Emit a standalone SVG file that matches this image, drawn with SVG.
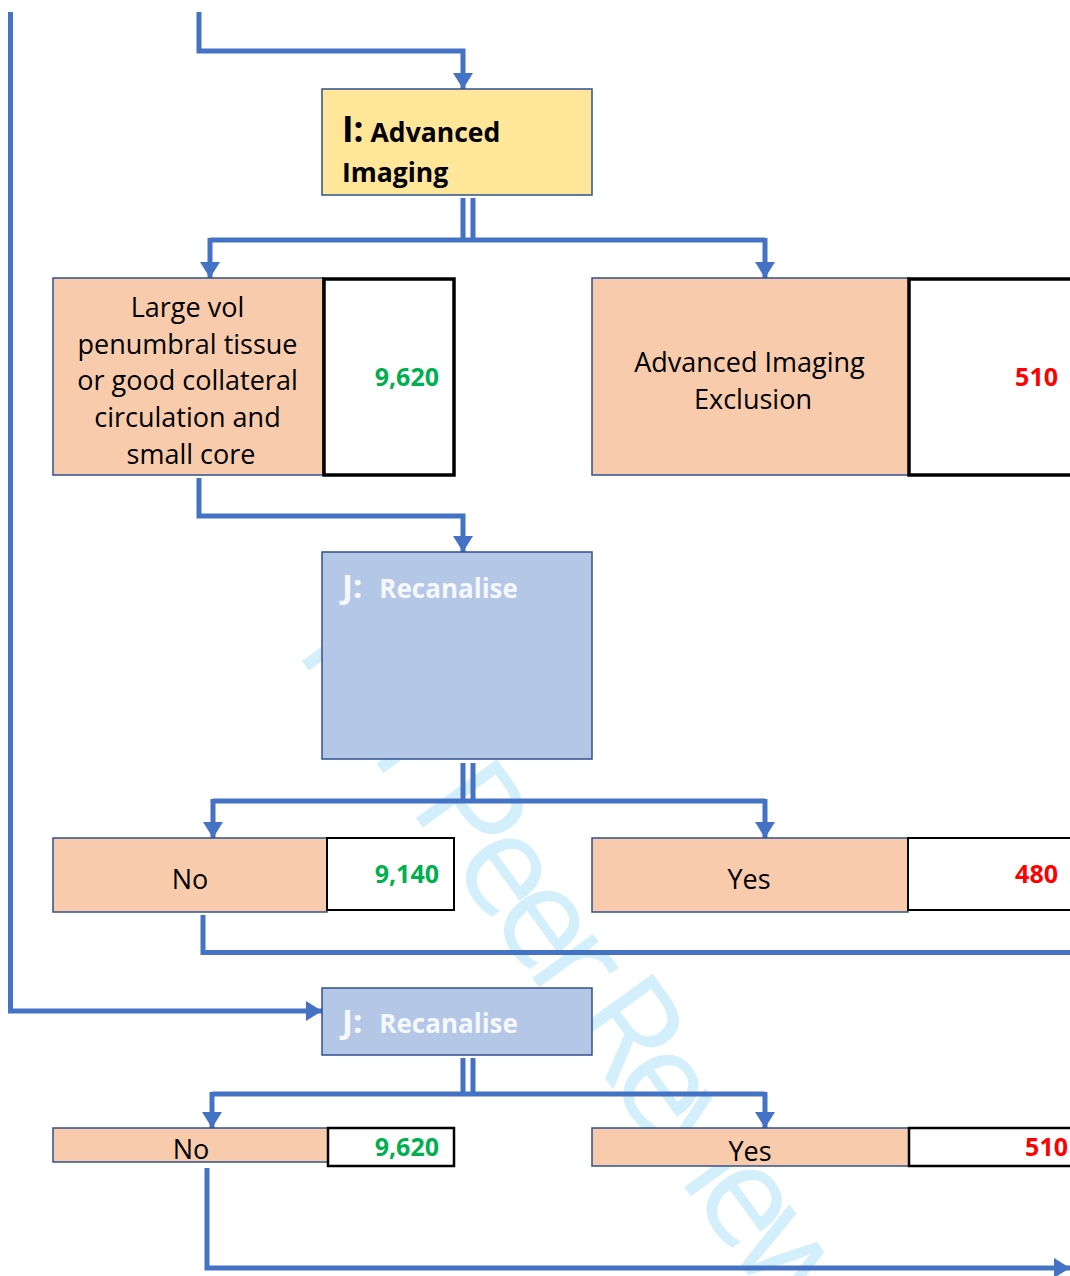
<svg xmlns="http://www.w3.org/2000/svg" width="1070" height="1276" viewBox="0 0 1070 1276">
  <defs>
    <marker id="arrow" markerUnits="userSpaceOnUse" markerWidth="16" markerHeight="20" refX="16" refY="10" orient="auto">
      <path d="M0,0 L16,10 L0,20 z" fill="#4472C4"/>
    </marker>
    <style>
      .step { fill: #FFE699; stroke: #2F528F; stroke-width: 1.5; }
      .outcome { fill: #F8CBAD; stroke: #2F528F; stroke-width: 1.5; }
      .action { fill: #B4C7E7; stroke: #2F528F; stroke-width: 1.5; }
      .count { fill: #FFFFFF; stroke: #000000; }
      .wire { fill: none; stroke: #4472C4; stroke-width: 5; }
      .label { font-family: "Open Sans", "Liberation Sans", sans-serif; font-size: 27px; fill: #000000; }
      .head { font-family: "Open Sans", "Liberation Sans", sans-serif; font-weight: bold; fill: #000000; }
      .head-light { font-family: "Open Sans", "Liberation Sans", sans-serif; font-weight: bold; fill: #FFFFFF; fill-opacity: 0.9; }
      .num { font-family: "Open Sans", "Liberation Sans", sans-serif; font-weight: bold; font-size: 25px; text-anchor: end; }
      .ok { fill: #00B050; }
      .out { fill: #FF0000; }
      .mid { text-anchor: middle; }
      .stamp { font-family: "Open Sans", "Liberation Sans", sans-serif; font-size: 140px; letter-spacing: -14px; fill: #D2EFFB; }
    </style>
  </defs>

  <rect width="1070" height="1276" fill="#FFFFFF"/>

  <!-- review stamp running diagonally behind the chart -->
  <text class="stamp" transform="translate(294,650) rotate(54)">For Peer Review</text>

  <!-- connectors -->
  <g id="connectors">
    <path class="wire" d="M10.5,12 V1011 H322" marker-end="url(#arrow)"/>
    <path class="wire" d="M199,12 V51 H463 V89" marker-end="url(#arrow)"/>
    <path class="wire" d="M463,198 V240 M473,198 V240"/>
    <path class="wire" d="M210,240 H765"/>
    <path class="wire" d="M210,238 V278" marker-end="url(#arrow)"/>
    <path class="wire" d="M765,238 V278" marker-end="url(#arrow)"/>
    <path class="wire" d="M199,478 V516 H463 V552" marker-end="url(#arrow)"/>
    <path class="wire" d="M463,763 V801 M473,763 V801"/>
    <path class="wire" d="M213,801 H765"/>
    <path class="wire" d="M213,799 V838" marker-end="url(#arrow)"/>
    <path class="wire" d="M765,799 V838" marker-end="url(#arrow)"/>
    <path class="wire" d="M203,915 V952.5 H1075"/>
    <path class="wire" d="M463,1058 V1094 M473,1058 V1094"/>
    <path class="wire" d="M212,1094 H765"/>
    <path class="wire" d="M212,1092 V1128" marker-end="url(#arrow)"/>
    <path class="wire" d="M765,1092 V1128" marker-end="url(#arrow)"/>
    <path class="wire" d="M207,1168 V1268 H1070" marker-end="url(#arrow)"/>
  </g>

  <!-- I: Advanced Imaging -->
  <g id="node-i">
    <rect class="step" x="322" y="89" width="270" height="106"/>
    <text class="head" x="342" y="142"><tspan font-size="35">I:</tspan><tspan font-size="26.5" dx="7">Advanced</tspan></text>
    <text class="head" x="342" y="182" font-size="26.5">Imaging</text>
  </g>

  <!-- Large vol penumbral tissue -->
  <g id="node-penumbra">
    <rect class="outcome" x="53" y="278" width="270" height="197"/>
    <text class="label mid" x="191">
      <tspan x="191" y="317">Large vol</tspan>
      <tspan x="191" y="354">penumbral tissue</tspan>
      <tspan x="191" y="390">or good collateral</tspan>
      <tspan x="191" y="427">circulation and</tspan>
      <tspan x="191" y="464">small core</tspan>
    </text>
  </g>
  <g id="count-penumbra">
    <rect class="count" x="324" y="279" width="130" height="196" stroke-width="3.5"/>
    <text class="num ok" x="439" y="386">9,620</text>
  </g>

  <!-- Advanced Imaging Exclusion -->
  <g id="node-exclusion">
    <rect class="outcome" x="592" y="278" width="317" height="197"/>
    <text class="label mid">
      <tspan x="753" y="372">Advanced Imaging</tspan>
      <tspan x="753" y="409">Exclusion</tspan>
    </text>
  </g>
  <g id="count-exclusion">
    <rect class="count" x="909" y="279" width="170" height="196" stroke-width="3.5"/>
    <text class="num out" x="1058" y="386">510</text>
  </g>

  <!-- J: Recanalise (after imaging) -->
  <g id="node-j1">
    <rect class="action" x="322" y="552" width="270" height="207"/>
    <text class="head-light" x="342" y="598"><tspan font-size="33">J:</tspan><tspan font-size="26" dx="17">Recanalise</tspan></text>
  </g>

  <!-- No / Yes after imaging -->
  <g id="node-j1-no">
    <rect class="outcome" x="53" y="838" width="274" height="74"/>
    <text class="label mid" x="190" y="889">No</text>
  </g>
  <g id="count-j1-no">
    <rect class="count" x="327" y="838" width="127" height="72" stroke-width="2"/>
    <text class="num ok" x="439" y="883">9,140</text>
  </g>
  <g id="node-j1-yes">
    <rect class="outcome" x="592" y="838" width="316" height="74"/>
    <text class="label mid" x="749" y="889">Yes</text>
  </g>
  <g id="count-j1-yes">
    <rect class="count" x="908" y="838" width="170" height="72" stroke-width="2"/>
    <text class="num out" x="1058" y="883">480</text>
  </g>

  <!-- J: Recanalise (direct) -->
  <g id="node-j2">
    <rect class="action" x="322" y="988" width="270" height="67"/>
    <text class="head-light" x="342" y="1033"><tspan font-size="33">J:</tspan><tspan font-size="26" dx="17">Recanalise</tspan></text>
  </g>

  <!-- No / Yes direct -->
  <g id="node-j2-no">
    <rect class="outcome" x="53" y="1128" width="276" height="34"/>
    <text class="label mid" x="191" y="1159">No</text>
  </g>
  <g id="count-j2-no">
    <rect class="count" x="328" y="1128" width="126" height="38" stroke-width="2.5"/>
    <text class="num ok" x="439" y="1156">9,620</text>
  </g>
  <g id="node-j2-yes">
    <rect class="outcome" x="592" y="1128" width="317" height="38"/>
    <text class="label mid" x="750" y="1161">Yes</text>
  </g>
  <g id="count-j2-yes">
    <rect class="count" x="909" y="1128" width="170" height="38" stroke-width="2.5"/>
    <text class="num out" x="1068" y="1156">510</text>
  </g>
</svg>
